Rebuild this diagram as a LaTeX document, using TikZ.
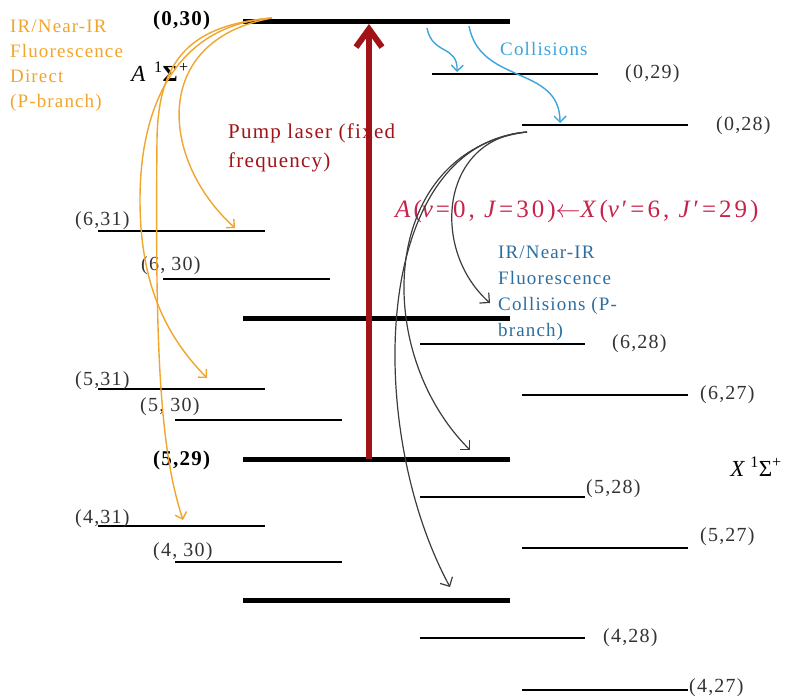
\documentclass[tikz,border=0pt]{standalone}
\usepackage{fontspec}
\setmainfont{Liberation Serif}[LetterSpace=6]
\usepackage{xcolor}
\usetikzlibrary{arrows.meta,positioning}

\definecolor{pumpred}{RGB}{160,20,25}
\definecolor{fluoorange}{RGB}{240,165,45}
\definecolor{collblue}{RGB}{60,165,220}
\definecolor{transred}{RGB}{200,35,75}
\definecolor{irblue}{RGB}{45,110,160}
\definecolor{decaygray}{RGB}{60,60,60}

\begin{document}
\begin{tikzpicture}[
  x=1pt, y=-1pt,
  font=\fontsize{20}{24}\selectfont,
  vib/.style={line width=5pt},
  rot/.style={line width=2pt},
  lbl/.style={inner sep=0pt, anchor=west, text=black!80},
  bold/.style={lbl, text=black, font=\bfseries\fontsize{21}{24}\selectfont},
  state/.style={inner sep=0pt, text=black, font=\fontsize{23}{26}\selectfont},
  note/.style={inner sep=0pt, anchor=north west, align=left,
               font=\fontsize{19}{25}\selectfont},
  pump/.style={-{Straight Barb[length=18pt,width=26pt]}, line width=6pt, pumpred},
  fluo/.style={-{Straight Barb[length=6pt,width=12pt]}, line width=1.4pt, fluoorange},
  coll/.style={-{Straight Barb[length=6pt,width=12pt]}, line width=1.4pt, collblue},
  decay/.style={-{Straight Barb[length=7pt,width=14pt]}, line width=1.2pt, decaygray}
]
\useasboundingbox (0,0) rectangle (786,700);

% texts
\node[note, text=fluoorange] (fluotxt) at (10,20)
  {IR/Near-IR\\Fluorescence\\Direct\\(P-branch)};
\node[state] (Astate) at (160,72) {\textit{A} \textsuperscript{1}\textbf{Σ}\textsuperscript{+}};
\node[state] (Xstate) at (756,467) {\textit{X}\,\textsuperscript{1}Σ\textsuperscript{+}};
\node[note, text=pumpred, font=\fontsize{21}{29}\selectfont] (pumptxt) at (228,124)
  {Pump laser (fixed\\frequency)};
\node[note, text=collblue] (colltxt) at (500,42) {Collisions};
\node[note, text=irblue, font=\fontsize{19}{26}\selectfont] (irtxt) at (498,246)
  {IR/Near-IR\\Fluorescence\\Collisions (P-\\branch)};
\node[inner sep=0pt, anchor=west, text=transred,
      font=\fontsize{25}{28}\selectfont\addfontfeatures{LetterSpace=12}]
  (trans) at (395,211)
  {\textit{A}(\textit{v}=0, \textit{J}=30)$\leftarrow$\textit{X}(\textit{v}′=6, \textit{J}′=29)};

% levels, A state
\draw[vib] (243,22) coordinate (a030w) -- (510,22) coordinate (a030e);
\draw[rot] (432,74) coordinate (a029w) -- (598,74) coordinate (a029e);
\draw[rot] (522,125) coordinate (a028w) -- (688,125) coordinate (a028e);
% levels, X state
\draw[rot] (98,231) coordinate (x631w) -- (265,231) coordinate (x631e);
\draw[rot] (163,279) coordinate (x630w) -- (330,279) coordinate (x630e);
\draw[vib] (243,318) coordinate (x629w) -- (510,318) coordinate (x629e);
\draw[rot] (420,344) coordinate (x628w) -- (585,344) coordinate (x628e);
\draw[rot] (522,395) coordinate (x627w) -- (688,395) coordinate (x627e);
\draw[rot] (98,389) coordinate (x531w) -- (265,389) coordinate (x531e);
\draw[rot] (175,420) coordinate (x530w) -- (342,420) coordinate (x530e);
\draw[vib] (243,459) coordinate (x529w) -- (510,459) coordinate (x529e);
\draw[rot] (420,497) coordinate (x528w) -- (585,497) coordinate (x528e);
\draw[rot] (522,548) coordinate (x527w) -- (688,548) coordinate (x527e);
\draw[rot] (98,526) coordinate (x431w) -- (265,526) coordinate (x431e);
\draw[rot] (175,562) coordinate (x430w) -- (342,562) coordinate (x430e);
\draw[vib] (243,600) coordinate (x429w) -- (510,600) coordinate (x429e);
\draw[rot] (420,638) coordinate (x428w) -- (585,638) coordinate (x428e);
\draw[rot] (522,690) coordinate (x427w) -- (688,690) coordinate (x427e);

% level labels
\node[bold] (t030) at (153,20) {(0,30)};
\node[lbl] (t029) at (625,74) {(0,29)};
\node[lbl] (t028) at (716,126) {(0,28)};
\node[lbl] (t631) at (75,221) {(6,31)};
\node[lbl] (t630) at (141,266) {(6, 30)};
\node[lbl] (t628) at (612,344) {(6,28)};
\node[lbl] (t627) at (700,395) {(6,27)};
\node[lbl] (t531) at (75,381) {(5,31)};
\node[lbl] (t530) at (140,407) {(5, 30)};
\node[bold] (t529) at (153,460) {(5,29)};
\node[lbl] (t528) at (586,489) {(5,28)};
\node[lbl] (t527) at (700,537) {(5,27)};
\node[lbl] (t431) at (75,519) {(4,31)};
\node[lbl] (t430) at (153,552) {(4, 30)};
\node[lbl] (t428) at (603,638) {(4,28)};
\node[lbl] (t427) at (689,688) {(4,27)};

% arrow ends
\coordinate (pumpfrom) at (369,459);
\coordinate (pumpto) at (369,24);
\coordinate (fluofrom) at (272,18);
\coordinate (f631) at (235,228);
\coordinate (f531) at (207,378);
\coordinate (f431) at (183,520);
\coordinate (c029from) at (427,28);
\coordinate (c029to) at (457,72);
\coordinate (c028from) at (469,26);
\coordinate (c028to) at (560,123);
\coordinate (decayfrom) at (527,132);
\coordinate (d628) at (490,303);
\coordinate (d528) at (470,450);
\coordinate (d428) at (450,587);

\draw[pump] (pumpfrom) -- (pumpto);
\draw[fluo] (fluofrom) .. controls (150,40) and (160,160) .. (f631);
\draw[fluo] (fluofrom) .. controls (180,25) and (140,100) .. (140,200)
  .. controls (140,290) and (170,340) .. (f531);
\draw[fluo] (fluofrom) .. controls (190,25) and (158,60) .. (157,140)
  .. controls (155,350) and (160,450) .. (f431);
\draw[coll] (c029from) .. controls (432,55) and (458,45) .. (c029to);
\draw[coll] (c028from) .. controls (480,85) and (560,65) .. (c028to);
\draw[decay] (decayfrom) .. controls (440,138) and (430,250) .. (d628);
\draw[decay] (decayfrom) .. controls (380,150) and (370,350) .. (d528);
\draw[decay] (decayfrom) .. controls (370,145) and (365,430) .. (d428);
\end{tikzpicture}
\end{document}
